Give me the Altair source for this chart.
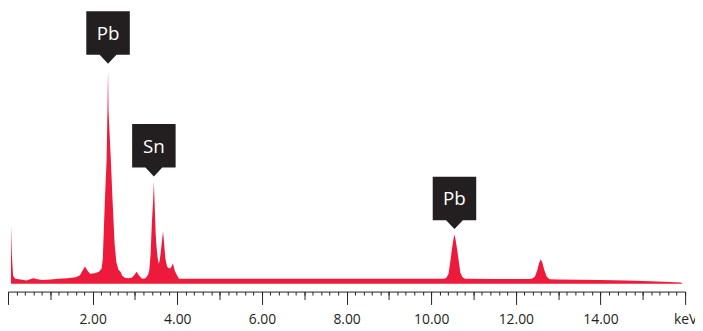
import altair as alt
import pandas as pd

# ---- spectrum (energy in keV, intensity in arbitrary counts)
energy_kev = [0.07, 0.09, 0.12, 0.17, 0.30, 0.44, 0.52, 0.60, 0.70, 0.80, 1.00, 1.20,
              1.40, 1.60, 1.70, 1.76, 1.82, 1.88, 1.94, 2.05, 2.15, 2.21, 2.24, 2.29,
              2.33, 2.35, 2.364, 2.375, 2.43, 2.47, 2.52, 2.56, 2.61, 2.66, 2.70, 2.76,
              2.85, 2.92, 2.97, 3.04, 3.10, 3.17, 3.25, 3.31, 3.34, 3.37, 3.40, 3.43,
              3.447, 3.465, 3.49, 3.51, 3.54, 3.565, 3.59, 3.63, 3.663, 3.69, 3.72, 3.76,
              3.80, 3.84, 3.87, 3.896, 3.94, 3.975, 4.04, 5.0, 6.0, 7.0, 8.0, 9.0, 10.0,
              10.30, 10.36, 10.41, 10.46, 10.50, 10.53, 10.55, 10.57, 10.60, 10.645, 10.69,
              10.74, 10.80, 11.5, 12.3, 12.38, 12.45, 12.51, 12.55, 12.59, 12.63, 12.67,
              12.73, 12.80, 13.0, 13.5, 14.0, 14.6, 15.0, 15.5, 15.9, 15.94]
counts = [59, 30, 8, 5, 4.2, 3.2, 4.5, 5.5, 4.5, 3.8, 4.2, 5.0,
          5.6, 6.6, 8.5, 13, 17.3, 13, 10, 10.5, 12, 15, 25, 85,
          125, 175, 217, 175, 125, 85, 40, 22, 14, 12, 8, 6,
          5.5, 6, 8, 12, 8, 5, 5.5, 9, 14, 30, 62, 85,
          103, 80, 50, 37, 25, 20, 25, 40, 53, 40, 25, 17,
          15.5, 15.5, 18, 20.7, 13, 10, 5, 5, 5, 5, 5, 5, 5,
          5, 6, 10, 25, 38, 46, 49.7, 46, 38, 25, 11,
          6.5, 5, 4.8, 4.6, 5, 7, 14, 21, 24.7, 21, 14,
          7, 4.5, 4.2, 3.9, 3.6, 3.2, 2.6, 2.0, 1.3, 0]

# ---- peak labels
peak_names = ["Pb", "Sn", "Pb"]
peak_kev = [2.364, 3.447, 10.55]
peak_counts = [217, 103, 49.7]

# ---- axis ticks
major_ticks = [0, 2, 4, 6, 8, 10, 12, 14, 16]
medium_ticks = [1, 3, 5, 7, 9, 11, 13, 15]
minor_ticks = [round(0.2 * i, 1) for i in range(81)]

RED = "#ed1b3b"
DARK = "#231f20"

spec = pd.DataFrame({"keV": energy_kev, "counts": counts})
labels = pd.DataFrame({"name": peak_names, "keV": peak_kev, "counts": peak_counts})

xs = alt.Scale(domain=[0, 16], nice=False, zero=False)
ys = alt.Scale(domain=[0, 277], nice=False, zero=True)

common_axis = dict(orient="bottom", offset=8, grid=False, title=None,
                   tickColor=DARK, domainColor=DARK, tickWidth=1, domainWidth=1)

major_axis = alt.Axis(values=major_ticks, tickSize=13, labelPadding=8,
                      labelExpr="datum.value == 16 ? 'keV' : (datum.value == 0 ? '' : format(datum.value, '.2f'))",
                      labelFont="Open Sans", labelFontSize=14, labelColor=DARK,
                      labelFlush=False, labelOverlap=False, **common_axis)
medium_axis = alt.Axis(values=medium_ticks, tickSize=8, labels=False, domain=False, **common_axis)
minor_axis = alt.Axis(values=minor_ticks, tickSize=3.5, labels=False, domain=False, **common_axis)

area = alt.Chart(spec).mark_area(color=RED, interpolate="linear").encode(
    x=alt.X("keV:Q", scale=xs, axis=major_axis),
    y=alt.Y("counts:Q", scale=ys, axis=None),
)

BOX = "M-1,-1L1,-1L1,1L0.386,1L0,1.409L-0.386,1L-1,1Z"
boxes = alt.Chart(labels).mark_point(shape=BOX, size=1936, filled=True, color=DARK,
                                     opacity=1, strokeWidth=0, yOffset=-36.5).encode(
    x=alt.X("keV:Q", scale=xs, axis=minor_axis),
    y=alt.Y("counts:Q", scale=ys, axis=None),
)

text = alt.Chart(labels).mark_text(color="white", font="Open Sans", fontSize=19,
                                   align="center", baseline="alphabetic", yOffset=-29.5).encode(
    x=alt.X("keV:Q", scale=xs, axis=medium_axis),
    y=alt.Y("counts:Q", scale=ys, axis=None),
    text="name:N",
)

chart = alt.layer(area, boxes, text).resolve_axis(x="independent").properties(
    width=685, height=277,
    autosize=alt.AutoSizeParams(type="none"),
    padding={"left": 0, "top": 0, "right": 10, "bottom": 46},
).configure_view(stroke=None)

chart.save("out.html", embed_options={"renderer": "svg", "actions": False})
